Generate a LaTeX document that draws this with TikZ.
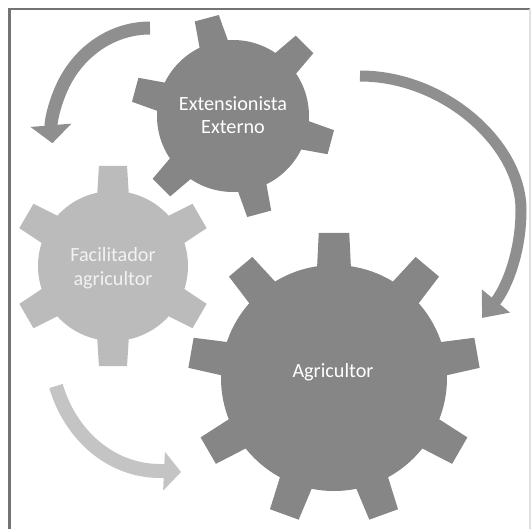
\documentclass[tikz,border=0pt]{standalone}
\usepackage{fontspec}
\setmainfont{Carlito}
\usetikzlibrary{arrows.meta}
\definecolor{grisoscuro}{HTML}{868686}
\definecolor{grisclaro}{HTML}{BBBBBB}
\definecolor{grisflecha}{HTML}{8F8F8F}
\definecolor{grisfaro}{HTML}{C4C4C4}
\begin{document}
\begin{tikzpicture}[x=0.02cm,y=0.02cm,
    diente/.style={fill=#1},
    flecha/.style={draw=#1,line cap=butt},
    etiqueta/.style={text=white,align=center,font=\fontsize{11.5}{13.5}\selectfont}]
  \useasboundingbox (0,0) rectangle (531,529);
  % marco
  \draw[line width=1.2pt,draw=black!55] (9.5,0) -- (9.5,520) -- (530,520);
  \draw[line width=0.8pt,draw=black!12] (530,520) -- (530,0);

  \coordinate (g1) at (233,413);
  \coordinate (g2) at (113,263);
  \coordinate (g3) at (334,151);

  % engranes
  \begin{scope}[shift={(g1)}]
    \fill[grisoscuro] (0,0) circle[radius=76];
    \foreach \a in {45,105,...,345}
      \fill[diente=grisoscuro] (\a-12:72) -- (\a-7:102) -- (\a+7:102) -- (\a+12:72) -- cycle;
  \end{scope}
  \begin{scope}[shift={(g2)}]
    \fill[grisclaro] (0,0) circle[radius=75];
    \foreach \a in {30,90,...,330}
      \fill[diente=grisclaro] (\a-13:71) -- (\a-8:101) -- (\a+8:101) -- (\a+13:71) -- cycle;
  \end{scope}
  \begin{scope}[shift={(g3)}]
    \fill[grisoscuro] (0,0) circle[radius=113];
    \foreach \a in {10,50,...,330}
      \fill[diente=grisoscuro] (\a-9:109) -- (\a-6:146) -- (\a+6:146) -- (\a+9:109) -- cycle;
  \end{scope}

  \node[etiqueta] (ext) at (233,414) {Extensionista\\Externo};
  \node[etiqueta,text=white!95!black] (fac) at (113,261) {Facilitador\\agricultor};
  \node[etiqueta] (agr) at (333,157) {Agricultor};

  % flechas
  \coordinate (a1) at (150,501);
  \coordinate (a2) at (360,453);
  \coordinate (a3) at (56,143);
  \draw[flecha=grisflecha,line width=0.26cm,-{Triangle[width=0.8cm,length=0.36cm]}]
    (a1) arc[start angle=90,end angle=185,x radius=98,y radius=106];
  \draw[flecha=grisflecha,line width=0.22cm,-{Triangle[width=0.7cm,length=0.44cm]}]
    (a2) .. controls (445,453) and (521,384) .. (521,319)
    .. controls (521,274) and (505,239) .. (482,211);
  \draw[flecha=grisfaro,line width=0.28cm,-{Triangle[width=0.76cm,length=0.34cm]}]
    (a3) .. controls (70,95) and (110,58) .. (160,58) -- (181,57);
\end{tikzpicture}
\end{document}
